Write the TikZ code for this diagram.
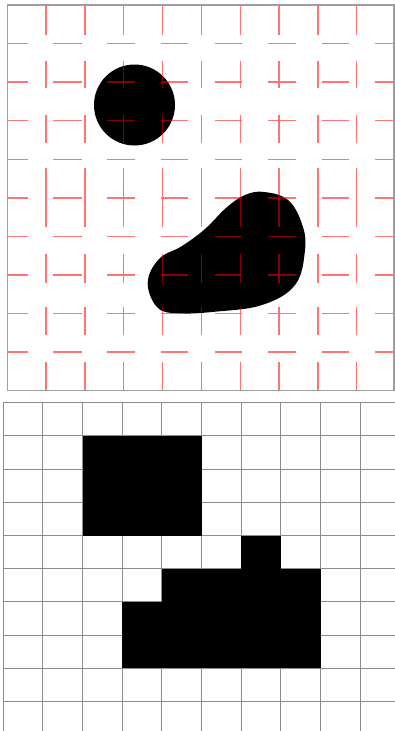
\documentclass[tikz,border=0pt]{standalone}
\definecolor{pinkred}{RGB}{255,115,115}
\definecolor{darkred}{RGB}{135,0,0}
\newcommand\myredgrid[1]{%
  \foreach \i in {1,...,9} {
    \pgfmathsetmacro\xx{46+38.85*(\i-1)}
    \pgfmathsetmacro\yy{5+38.57*\i}
    \foreach \a/\b in {5/35,61/88,115/143,168/227,254/283,307/335,362/390}
      \draw[redline,#1] (\xx,\a) -- (\xx,\b);
    \foreach \a/\b in {7.5/28,53/82,107/135,161/188,215/242,268/296,322/349,375/394}
      \draw[redline,#1] (\a,\yy) -- (\b,\yy);
  }}
\newcommand\myblob{plot[smooth cycle, tension=0.65] coordinates {
  (147.7,283) (159,259) (182,246) (205,229) (226,208) (245,195)
  (264,192) (288,200) (302,224) (305,250) (295,285) (262,305)
  (215,311.7) (180,313.3) (158,308)}}
\begin{document}
\begin{tikzpicture}[x=1pt,y=-1pt,
  frameline/.style={draw=black!38, line width=1.5pt},
  redline/.style={line width=1.3pt},
  gridline/.style={draw=black!45, line width=1pt},
  blk/.style={fill=black}]
\useasboundingbox (0,0) rectangle (395,731);
% ---------- top panel ----------
\fill[white] (7.5,5) rectangle (394,390.5);
\fill[blk] (134.5,105) circle (40.5);
\fill[blk] \myblob;
\myredgrid{draw=pinkred}
\begin{scope}
  \clip (134.5,105) circle (40.5) \myblob;
  \myredgrid{draw=darkred}
\end{scope}
\draw[frameline] (7.5,5) rectangle (394,390.5);
% ---------- bottom panel ----------
\foreach \i in {0,...,10}
  \draw[gridline] ({3.3+39.67*\i},402.7) -- ({3.3+39.67*\i},731);
\foreach \j in {0,...,9}
  \draw[gridline] (3.3,{402.7+33.2*\j}) -- (395,{402.7+33.2*\j});
\fill[blk] (82.64,435.9) rectangle (201.65,535.5);
\fill[blk] (241.32,535.5) rectangle (280.99,568.7);
\fill[blk] (161.98,568.7) rectangle (320.66,601.9);
\fill[blk] (122.31,601.9) rectangle (320.66,668.3);
\end{tikzpicture}
\end{document}
